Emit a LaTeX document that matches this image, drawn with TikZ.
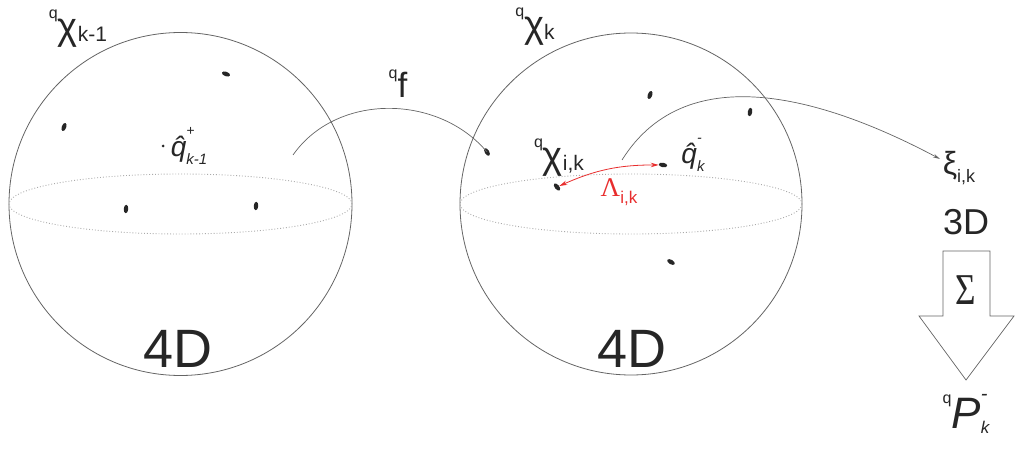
\documentclass[tikz,border=0pt]{standalone}
\usepackage{fontspec}
\setmainfont{Liberation Sans}
\newfontfamily\serifgreek{Liberation Serif}
\usetikzlibrary{positioning,shapes.geometric,arrows.meta}
\definecolor{linegray}{RGB}{100,100,100}
\definecolor{dotgray}{RGB}{170,170,170}
\definecolor{lamred}{RGB}{232,45,45}
\newcommand{\fsz}[1]{\fontsize{#1}{#1}\selectfont}
\newcommand{\presup}[1]{\raisebox{0.55em}{\fsz{16}#1}}
\newcommand{\supsub}[3][]{\makebox[0pt][l]{\raisebox{0.75em}{\fsz{14}#2}}\raisebox{-0.3em}{\fsz{15}#1#3}}

\begin{document}
\begin{tikzpicture}[x=1pt,y=1pt,
  sphere/.style={linegray, line width=0.8pt},
  equator/.style={dotgray, dotted, line width=0.9pt},
  pt/.style={ellipse, fill=black!85, inner sep=0pt, minimum width=4.5pt, minimum height=8.5pt},
  flow/.style={linegray, line width=0.7pt},
  lbl/.style={inner sep=0pt, text=black!85}]
\useasboundingbox (0,0) rectangle (1024,-449);
\draw[sphere] (180.5,-204) circle (171.5pt); %X k-1
\draw[equator] (180.5,-204) ellipse (171.5pt and 30pt);
\draw[sphere] (631,-204) circle (171pt); %X k
\draw[equator] (631,-204) ellipse (171pt and 30pt);
  %----points k-1----%
  \draw (226,-74) node[pt,rotate=70] (a1) {};
  \draw (64,-127) node[pt,rotate=-20] (a2) {};
  \draw (163,-146) node[circle,fill=black!85,inner sep=0pt,minimum size=3pt] (qp) {};
  \draw (126,-209) node[pt,rotate=-5] (a3) {};
  \draw (256,-206) node[pt,rotate=-5] (a4) {};
  %----points k----%
  \draw (650,-95) node[pt,rotate=-20] (b1) {};
  \draw (750,-112) node[pt,rotate=-10] (b2) {};
  \draw (487,-152) node[pt,rotate=30] (b3) {};
  \draw (557,-187) node[pt,rotate=40] (b4) {};
  \draw (663,-165) node[pt,rotate=80] (b5) {};
  \draw (671,-262) node[pt,rotate=60] (b6) {};
  %----labels----%
  \draw (78,-29) node[lbl,font=\fsz{38}] (xkm) {\presup{q}χ\raisebox{-0.05em}{\fsz{21}k-1}};
  \draw (535,-27) node[lbl,font=\fsz{38}] (xk) {\presup{q}χ\raisebox{-0.05em}{\fsz{21}k}};
  \draw (398,-84) node[lbl,font=\fsz{35}] (fl) {\presup{q}f};
  \draw (qp.east) node[lbl,right=6pt,font=\fsz{28}] (qhp) {\itshape\^{q}\supsub[\itshape]{+}{k-1}};
  \draw (559,-158) node[lbl,font=\fsz{38}] (xik) {\presup{q}χ\raisebox{-0.05em}{\fsz{21}i,k}};
  \draw (693,-155) node[lbl,font=\fsz{28}] (qhm) {\itshape\^{q}\supsub[\itshape]{-}{k}};
  \draw (619,-192) node[lbl,font=\fsz{27},text=lamred] (lam) {{\serifgreek Λ}\raisebox{-0.25em}{\fsz{17}i,k}};
  \draw (959,-168) node[lbl,font=\fsz{32}] (xi) {ξ\raisebox{-0.25em}{\fsz{18}i,k}};
  \draw (966,-222) node[lbl,font=\fsz{36}] (d3) {3D};
  \draw (178,-349) node[lbl,font=\fsz{54}] (d4a) {4D};
  \draw (632,-349) node[lbl,font=\fsz{54}] (d4b) {4D};
  \draw (966,-414) node[lbl,font=\fsz{44}] (pk) {\presup{q}\itshape P\makebox[0pt][l]{\raisebox{0.62em}{\fsz{20}-}}\raisebox{-0.12em}{\fsz{17}k}};
  %----sum arrow----%
  \draw[linegray, line width=0.7pt] (943,-251) -- (990,-251) -- (990,-316) -- (1014,-316)
    -- (966,-380) -- (919,-316) -- (943,-316) -- cycle;
  \draw (966,-290) node[lbl,font=\fsz{44},xscale=0.8] (sig) {\serifgreek Σ};
  %----flows----%
  \coordinate (fs) at (293,-155);
  \coordinate (xs) at (622,-160);
  \coordinate (xe) at (940,-159);
  \draw[flow] (fs) to[out=55,in=130] (b3.center);
  \draw[flow,-{Stealth[length=7pt,width=3.5pt]}] (xs) to[out=58,in=152] (xe);
  \draw[lamred,line width=0.8pt,{Stealth[length=8pt,width=4.5pt]}-{Stealth[length=8pt,width=4.5pt]}] (b4) to[bend left=12] (b5);
\end{tikzpicture}
\end{document}
